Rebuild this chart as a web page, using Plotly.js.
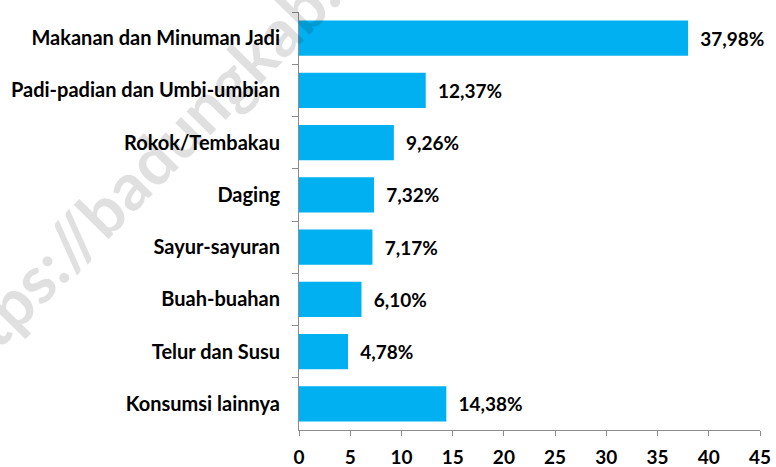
<!DOCTYPE html>
<html>
<head>
<meta charset="utf-8">
<script src="https://cdn.plot.ly/plotly-3.0.1.min.js"></script>
<style>html,body{margin:0;padding:0;background:#fff;}#chart{width:776px;height:467px;}</style>
</head>
<body>
<div id="chart"></div>
<script>
const categories = [
  "Makanan dan Minuman Jadi",
  "Padi-padian dan Umbi-umbian",
  "Rokok/Tembakau",
  "Daging",
  "Sayur-sayuran",
  "Buah-buahan",
  "Telur dan Susu",
  "Konsumsi lainnya"
];
const values = [37.98, 12.37, 9.26, 7.32, 7.17, 6.10, 4.78, 14.38];
const xTicks = [0, 5, 10, 15, 20, 25, 30, 35, 40, 45];
const watermark = "https://badungkab.bps.go.id";

const FONT = "Lato, 'Open Sans', sans-serif";

const trace = {
  type: "bar",
  orientation: "h",
  y: categories,
  x: values,
  marker: {color: "#00B0F0"},
  texttemplate: "\u00a0\u00a0%{x:.2f}%",
  textposition: "outside",
  cliponaxis: false,
  textfont: {family: FONT, size: 19, color: "#000", weight: "bold"},
  hoverinfo: "none"
};

const layout = {
  width: 776, height: 467,
  margin: {l: 299, r: 16, t: 12, b: 37},
  paper_bgcolor: "#fff", plot_bgcolor: "#fff",
  separators: ",.",
  showlegend: false,
  bargap: 0.33,
  font: {family: FONT, size: 20, color: "#000", weight: "bold"},
  xaxis: {
    range: [0, 45],
    tickvals: xTicks,
    ticktext: xTicks.map(String),
    showgrid: false,
    zeroline: false,
    showline: true,
    linecolor: "#8c8c8c",
    linewidth: 1,
    ticks: "outside",
    ticklen: 5,
    tickcolor: "#8c8c8c",
    ticklabelstandoff: 5,
    tickfont: {family: FONT, size: 19, color: "#000", weight: "bold"},
    fixedrange: true
  },
  yaxis: {
    autorange: "reversed",
    type: "category",
    tickson: "boundaries",
    showgrid: false,
    zeroline: false,
    showline: true,
    linecolor: "#8c8c8c",
    linewidth: 1,
    ticks: "outside",
    ticklen: 6,
    tickcolor: "#8c8c8c",
    ticklabelstandoff: 14,
    tickfont: {family: FONT, size: 20, color: "#000", weight: "bold"},
    fixedrange: true
  },
  annotations: [{
    text: watermark,
    xref: "paper", yref: "paper",
    x: -0.163, y: 0.823,
    xanchor: "center", yanchor: "middle",
    textangle: -45.5,
    showarrow: false,
    font: {family: FONT, size: 66, color: "rgba(0,0,0,0.12)", weight: "bold"}
  }]
};

Plotly.newPlot("chart", [trace], layout, {displayModeBar: false, staticPlot: true});
</script>
</body>
</html>
